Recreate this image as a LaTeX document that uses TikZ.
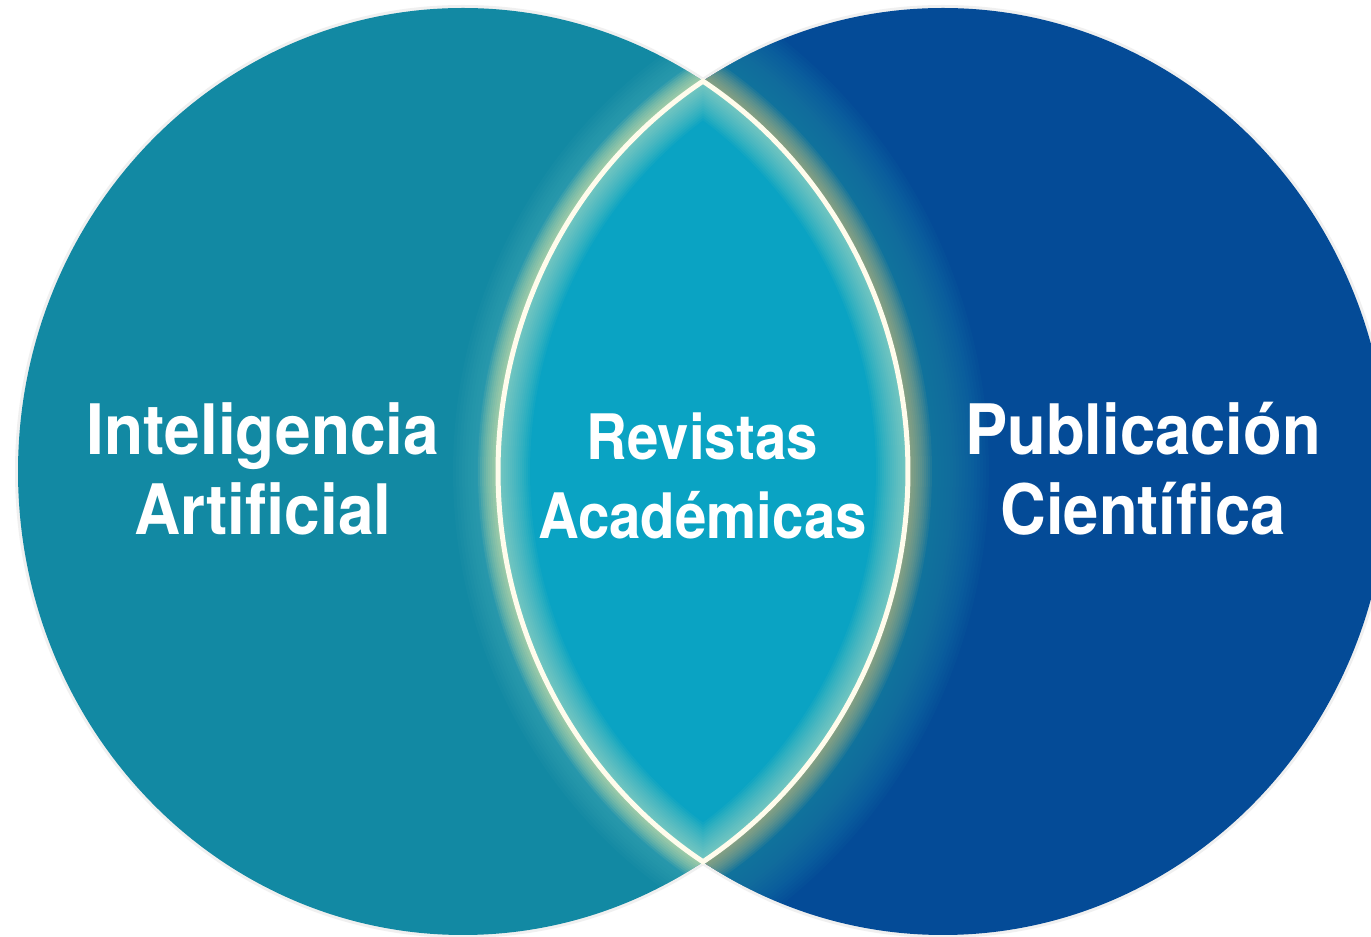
\documentclass[tikz,border=0pt]{standalone}
\usepackage{fontspec}
\setmainfont{TeX Gyre Heros}
\usepackage{graphicx}
\definecolor{tealL}{HTML}{1289A3}
\definecolor{blueR}{HTML}{044B97}
\definecolor{lensC}{HTML}{0AA3C3}
\definecolor{glowT}{HTML}{1E88AA}
\definecolor{glowL}{HTML}{45AEB8}
\definecolor{glowTan}{HTML}{D8C07A}
\definecolor{glowY}{HTML}{EEF0A8}
\definecolor{glowIn}{HTML}{E8F2C0}
\definecolor{lineW}{HTML}{FFFCEC}
\tikzset{
  lenspath/.style={insert path={(703,855.8) arc[start angle=57.36,end angle=-57.36,x radius=445,y radius=463.5] arc[start angle=237.36,end angle=122.64,x radius=445,y radius=463.5] -- cycle}},
  leftpath/.style={insert path={(463,465.5) ellipse [x radius=445, y radius=463.5]}},
  rightpath/.style={insert path={(943,465.5) ellipse [x radius=445, y radius=463.5]}},
  sidetext/.style={text=white, inner sep=0pt, font=\fontsize{69.6}{80}\selectfont\bfseries},
  midtext/.style={text=white, inner sep=0pt, font=\fontsize{62.7}{79}\selectfont\bfseries}
}
\newcommand{\IAtext}{\scalebox{0.92}[1]{\begin{tabular}[t]{@{}c@{}}Inteligencia\\Artificial\end{tabular}}}
\newcommand{\RAtext}{\scalebox{0.9}[1]{\begin{tabular}[t]{@{}c@{}}Revistas\\Académicas\end{tabular}}}
\newcommand{\PCtext}{\scalebox{0.91}[1]{\begin{tabular}[t]{@{}c@{}}Publicación\\Científica\end{tabular}}}
\begin{document}
\begin{tikzpicture}[x=1pt,y=1pt]
\useasboundingbox (0,0) rectangle (1371,937);
\fill[white] (0,0) rectangle (1371,937);
\clip (0,0) rectangle (1371,937);
% halos
\draw[black!6, line width=6pt, leftpath];
\draw[black!6, line width=6pt, rightpath];
% circles
\fill[blueR, rightpath];
\fill[tealL, leftpath];
% right-side glow
\begin{scope}
  \clip[rightpath];
  \foreach \d in {3,6,...,81} \draw[glowT, line width=\d*2pt, opacity=0.065, lenspath];
  \foreach \d in {2,4,...,24} \draw[glowTan, line width=\d*2pt, opacity=0.08, lenspath];
\end{scope}
% left-side glow
\begin{scope}
  \clip[leftpath];
  \foreach \d in {3,6,...,45} \draw[glowL, line width=\d*2pt, opacity=0.08, lenspath];
  \foreach \d in {2,4,...,20} \draw[glowY, line width=\d*2pt, opacity=0.09, lenspath];
\end{scope}
% lens
\fill[lensC, lenspath];
\begin{scope}
  \clip[lenspath];
  \foreach \d in {2,4,...,32} \draw[glowIn, line width=\d*2pt, opacity=0.045, lenspath];
\end{scope}
\draw[lineW, line width=5pt, line join=miter, lenspath];
% texts
\node[sidetext, anchor=base] (ia) at (263,482) {\IAtext};
\node[midtext, anchor=base] (ra) at (702.5,477) {\RAtext};
\node[sidetext, anchor=base] (pc) at (1143,482) {\PCtext};
\end{tikzpicture}
\end{document}
